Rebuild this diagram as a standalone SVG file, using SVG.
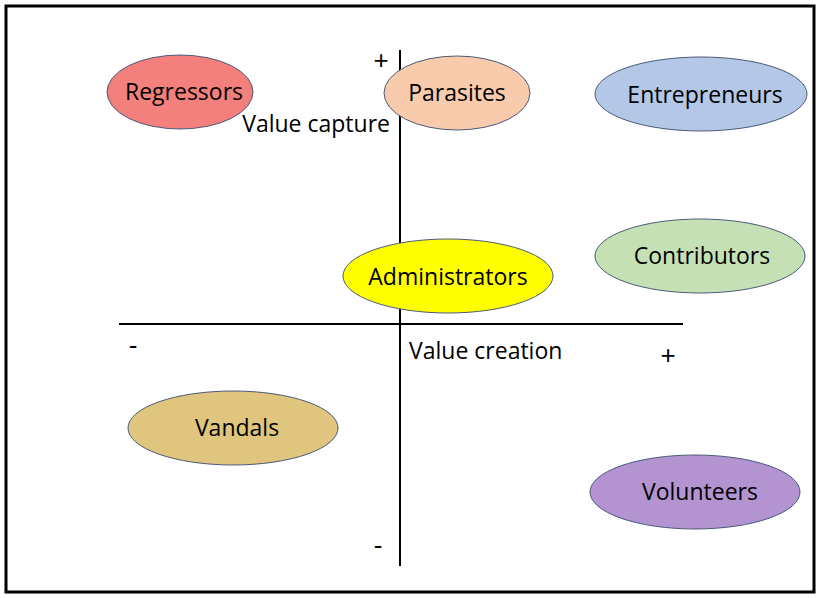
<svg xmlns="http://www.w3.org/2000/svg" width="821" height="598" viewBox="0 0 821 598">
<style>
.n{stroke:#4a5a78;stroke-width:1}
.t{font-family:"Open Sans","Liberation Sans",sans-serif;font-size:23px;fill:#000;text-anchor:middle}
.s{font-family:"Liberation Sans",sans-serif;font-size:26px;fill:#000;text-anchor:middle}
.a{stroke:#000;stroke-width:2;fill:none}
</style>
<rect x="0" y="0" width="821" height="598" fill="#fff"/>
<rect x="6" y="6" width="808" height="586" fill="none" stroke="#000" stroke-width="3"/>
<g id="axes">
<line class="a" x1="400" y1="50" x2="400" y2="566"/>
<line class="a" x1="119" y1="324" x2="683" y2="324"/>
<text class="s" x="381" y="69">+</text>
<text class="t" x="390" y="132" style="text-anchor:end">Value capture</text>
<text class="t" x="409" y="359" style="text-anchor:start">Value creation</text>
<text class="s" x="668" y="364">+</text>
<text class="s" x="133" y="354">-</text>
<text class="s" x="378" y="554">-</text>
</g>
<g id="regressors"><ellipse class="n" cx="180" cy="92" rx="73" ry="37" fill="#F4807E"/><text class="t" x="184" y="100">Regressors</text></g>
<g id="parasites"><ellipse class="n" cx="457" cy="93" rx="73" ry="37" fill="#F8CBAD"/><text class="t" x="457" y="101">Parasites</text></g>
<g id="entrepreneurs"><ellipse class="n" cx="701" cy="94" rx="106" ry="37" fill="#B4C7E7"/><text class="t" x="705" y="103">Entrepreneurs</text></g>
<g id="contributors"><ellipse class="n" cx="700" cy="256" rx="105" ry="37" fill="#C5E0B4"/><text class="t" x="702" y="264">Contributors</text></g>
<g id="administrators"><ellipse class="n" cx="448" cy="276" rx="105" ry="37" fill="#FFFF00"/><text class="t" x="448" y="285">Administrators</text></g>
<g id="vandals"><ellipse class="n" cx="233" cy="428" rx="105" ry="37" fill="#DFC57E"/><text class="t" x="237" y="436">Vandals</text></g>
<g id="volunteers"><ellipse class="n" cx="695" cy="492" rx="105" ry="37" fill="#B394D1"/><text class="t" x="700" y="500">Volunteers</text></g>
</svg>
